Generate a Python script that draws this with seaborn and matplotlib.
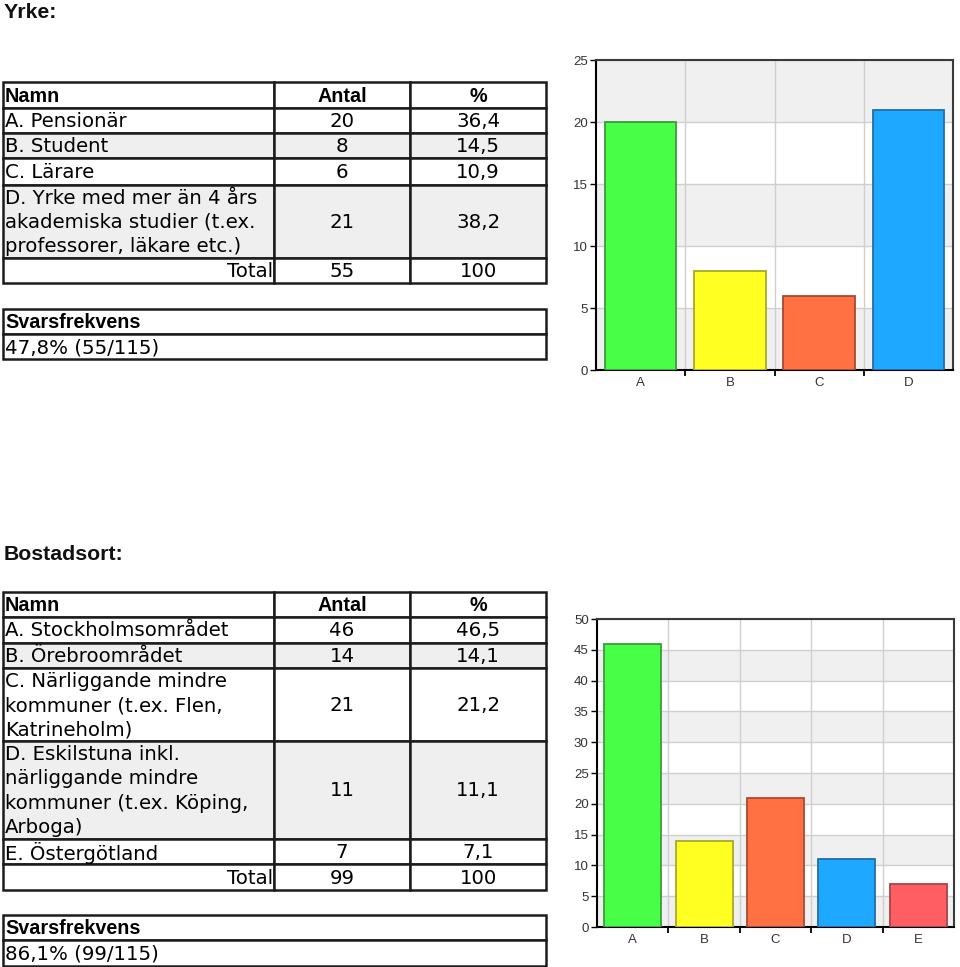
import matplotlib
matplotlib.use("Agg")
import matplotlib.pyplot as plt
import seaborn as sns
import pandas as pd
from matplotlib.patches import Rectangle
from matplotlib.ticker import MultipleLocator, FixedLocator

# ---------------- data ----------------
header = ["Namn", "Antal", "%"]
svars_header = "Svarsfrekvens"
total_label = "Total"

yrke_title = "Yrke:"
yrke_names = ["A. Pensionär", "B. Student", "C. Lärare",
              "D. Yrke med mer än 4 års\nakademiska studier (t.ex.\nprofessorer, läkare etc.)"]
yrke_labels = ["A", "B", "C", "D"]
yrke_antal = [20, 8, 6, 21]
yrke_pct = ["36,4", "14,5", "10,9", "38,2"]
yrke_total = ["55", "100"]
yrke_svars = "47,8% (55/115)"

bost_title = "Bostadsort:"
bost_names = ["A. Stockholmsområdet", "B. Örebroområdet",
              "C. Närliggande mindre\nkommuner (t.ex. Flen,\nKatrineholm)",
              "D. Eskilstuna inkl.\nnärliggande mindre\nkommuner (t.ex. Köping,\nArboga)",
              "E. Östergötland"]
bost_labels = ["A", "B", "C", "D", "E"]
bost_antal = [46, 14, 21, 11, 7]
bost_pct = ["46,5", "14,1", "21,2", "11,1", "7,1"]
bost_total = ["99", "100"]
bost_svars = "86,1% (99/115)"

bar_faces = ["#48ff48", "#ffff22", "#ff7043", "#1fa8ff", "#ff5f62"]
bar_edges = ["#3c9c3c", "#a8a82a", "#a84a30", "#206ea8", "#a84446"]

# ---------------- layout ----------------
W, H = 960, 967
fig = plt.figure(figsize=(9.6, 9.67), dpi=100)
ov = fig.add_axes([0, 0, 1, 1])
ov.set_xlim(0, W)
ov.set_ylim(H, 0)
ov.axis("off")

BODY = ["DejaVu Sans"]
HEAD = ["Liberation Sans", "DejaVu Sans"]
FS = 14.2
FSH = 14.2
LINE = 24.4
col_x = [3, 274, 410, 546]
GRAY = "#efefef"
LC = "#1c1c1c"
LW = 1.8


def cell(x0, x1, y0, y1, face):
    ov.add_patch(Rectangle((x0, y0), x1 - x0, y1 - y0, facecolor=face,
                           edgecolor=LC, linewidth=LW, zorder=1))


def multiline(x, yc, txt, ha, **kw):
    lines = txt.split("\n")
    n = len(lines)
    for i, ln in enumerate(lines):
        y = yc + (i - (n - 1) / 2) * LINE
        ov.text(x, y + 1, ln, ha=ha, va="center", **kw, zorder=3)


def draw_table(title, title_y, top, row_edges, names, antal, pct, total, svars_top, svars):
    ov.text(4, title_y, title, ha="left", va="center", family=HEAD,
            fontweight="bold", fontsize=15.3, color="#111111")
    # header
    y0, y1 = top, row_edges[0]
    for c in range(3):
        cell(col_x[c], col_x[c + 1], y0, y1, "white")
    ov.text(col_x[0] + 2, (y0 + y1) / 2 + 1, header[0], ha="left", va="center",
            family=HEAD, fontweight="bold", fontsize=FSH)
    ov.text((col_x[1] + col_x[2]) / 2, (y0 + y1) / 2 + 1, header[1], ha="center",
            va="center", family=HEAD, fontweight="bold", fontsize=FSH)
    ov.text((col_x[2] + col_x[3]) / 2, (y0 + y1) / 2 + 1, header[2], ha="center",
            va="center", family=HEAD, fontweight="bold", fontsize=FSH)
    # data rows
    prev = row_edges[0]
    for i, (nm, a, p) in enumerate(zip(names, antal, pct)):
        y0, y1 = prev, row_edges[i + 1]
        face = GRAY if i % 2 == 1 else "white"
        for c in range(3):
            cell(col_x[c], col_x[c + 1], y0, y1, face)
        yc = (y0 + y1) / 2
        multiline(col_x[0] + 2, yc, nm, "left", family=BODY, fontsize=FS)
        multiline((col_x[1] + col_x[2]) / 2, yc, str(a), "center", family=BODY, fontsize=FS)
        multiline((col_x[2] + col_x[3]) / 2, yc, p, "center", family=BODY, fontsize=FS)
        prev = y1
    # total row
    y0, y1 = prev, row_edges[-1]
    for c in range(3):
        cell(col_x[c], col_x[c + 1], y0, y1, "white")
    yc = (y0 + y1) / 2
    multiline(col_x[1] - 1, yc, total_label, "right", family=BODY, fontsize=FS)
    multiline((col_x[1] + col_x[2]) / 2, yc, total[0], "center", family=BODY, fontsize=FS)
    multiline((col_x[2] + col_x[3]) / 2, yc, total[1], "center", family=BODY, fontsize=FS)
    # svarsfrekvens box
    s0, s1, s2 = svars_top
    cell(col_x[0], col_x[3], s0, s1, "white")
    cell(col_x[0], col_x[3], s1, s2, "white")
    ov.text(col_x[0] + 2, (s0 + s1) / 2 + 1, svars_header, ha="left", va="center",
            family=HEAD, fontweight="bold", fontsize=FSH)
    multiline(col_x[0] + 2, (s1 + s2) / 2, svars, "left", family=BODY, fontsize=FS)


draw_table(yrke_title, 12, 82, [108, 133, 158, 185, 258, 283],
           yrke_names, yrke_antal, yrke_pct, yrke_total, (309, 334, 359), yrke_svars)
draw_table(bost_title, 555, 592, [617, 643, 668, 741, 839, 864, 890],
           bost_names, bost_antal, bost_pct, bost_total, (915, 940, 966), bost_svars)


def chart(box, labels, vals, ymax):
    left, top, right, bottom = box
    ax = fig.add_axes([left / W, 1 - bottom / H, (right - left) / W, (bottom - top) / H])
    n = len(labels)
    df = pd.DataFrame({"cat": labels, "val": vals})
    sns.barplot(data=df, x="cat", y="val", hue="cat", palette=bar_faces[:n],
                legend=False, width=0.8, saturation=1, ax=ax, linewidth=1.3,
                zorder=3)
    for p, ec in zip(ax.patches, bar_edges[:n]):
        p.set_edgecolor(ec)
    ax.set_ylim(0, ymax)
    ax.set_xlim(-0.5, n - 0.5)
    for k, lo in enumerate(range(0, ymax, 5)):
        if k % 2 == 0:
            ax.axhspan(lo, lo + 5, color="#f0f0f0", zorder=0, lw=0)
    ax.yaxis.set_major_locator(MultipleLocator(5))
    ax.set_xticks(range(n))
    ax.set_xticklabels(labels)
    ax.xaxis.set_minor_locator(FixedLocator([i + 0.5 for i in range(n - 1)]))
    ax.tick_params(axis="x", which="major", length=0, pad=5, labelsize=9.5,
                   labelcolor="#333333")
    ax.tick_params(axis="x", which="minor", length=4, width=1.3, direction="out",
                   color="black")
    ax.tick_params(axis="y", length=4, width=1, pad=2, labelsize=9.5,
                   labelcolor="#333333")
    for lab in ax.get_xticklabels() + ax.get_yticklabels():
        lab.set_family(HEAD)
    ax.grid(axis="y", which="major", color="#cfcfcf", lw=1)
    ax.grid(axis="x", which="minor", color="#cfcfcf", lw=1)
    ax.set_axisbelow(True)
    for s in ["left", "bottom"]:
        ax.spines[s].set_color("black")
        ax.spines[s].set_linewidth(1.5)
    for s in ["top", "right"]:
        ax.spines[s].set_color("#3a3a3a")
        ax.spines[s].set_linewidth(1.5)
    ax.set_xlabel("")
    ax.set_ylabel("")
    return ax


chart((596, 60, 953, 370), yrke_labels, yrke_antal, 25)
chart((597, 619, 954, 927), bost_labels, bost_antal, 50)

fig.savefig("out.png", dpi=100)
